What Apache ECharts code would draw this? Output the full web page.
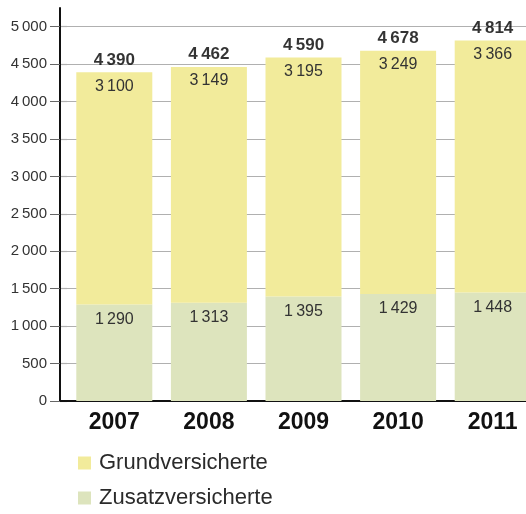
<!DOCTYPE html>
<html>
<head>
<meta charset="utf-8">
<script src="https://cdn.jsdelivr.net/npm/echarts@6/dist/echarts.min.js"></script>
<style>html,body{margin:0;padding:0;background:#fff}#c{width:526px;height:514px}</style>
</head>
<body>
<div id="c"></div>
<script>
const years = ['2007', '2008', '2009', '2010', '2011'];
const zusatz = [1290, 1313, 1395, 1429, 1448];
const grund = [3100, 3149, 3195, 3249, 3366];
const totals = [4390, 4462, 4590, 4678, 4814];
const seriesNames = ['Grundversicherte', 'Zusatzversicherte'];
const yTicks = { min: 0, max: 5000, interval: 500 };

const FONT = '"Liberation Sans", Arial, Helvetica, sans-serif';
const fmt = n => String(n).replace(/\B(?=(\d{3})+(?!\d))/g, '\u2009');
const YELLOW = '#f2eb9b';
const GREEN = '#dde4bd';

const legendBase = {
  orient: 'vertical',
  left: 78,
  padding: 0,
  icon: 'rect',
  itemWidth: 13,
  itemHeight: 13,
  textStyle: { fontFamily: FONT, fontSize: 22, color: '#2a2a2a', lineHeight: 22, padding: [0, 0, 0, 3] }
};

const chart = echarts.init(document.getElementById('c'), null, { renderer: 'canvas' });
chart.setOption({
  animation: false,
  textStyle: { fontFamily: FONT },
  grid: [
    { left: 67, width: 473, top: 26.7, bottom: 113, outerBoundsMode: 'none', containLabel: false },
    { left: 60, width: 7, top: 26.7, bottom: 113, outerBoundsMode: 'none' },
    { left: 60, width: 7, top: 8, height: 18.7, outerBoundsMode: 'none' }
  ],
  legend: [
    Object.assign({}, legendBase, { data: [seriesNames[0]], top: 452 }),
    Object.assign({}, legendBase, { data: [seriesNames[1]], top: 487 })
  ],
  xAxis: [
    {
      type: 'category', data: years, gridIndex: 0,
      axisLine: { lineStyle: { color: '#111', width: 2 } },
      axisTick: { show: false },
      axisLabel: { fontFamily: FONT, fontSize: 23, fontWeight: 'bold', color: '#111', margin: 10 }
    },
    {
      type: 'value', gridIndex: 1, min: 0, max: 1,
      axisLine: { show: true, lineStyle: { color: '#111', width: 2 } },
      axisTick: { show: false }, axisLabel: { show: false }, splitLine: { show: false }
    },
    { type: 'value', gridIndex: 2, show: false, min: 0, max: 1 }
  ],
  yAxis: [
    {
      type: 'value', gridIndex: 0, min: yTicks.min, max: yTicks.max, interval: yTicks.interval,
      offset: 7,
      axisLine: { show: true, lineStyle: { color: '#111', width: 2 } },
      axisTick: { show: true, length: 10, lineStyle: { color: '#666', width: 1 } },
      axisLabel: {
        fontFamily: FONT, fontSize: 15, color: '#333', margin: 13,
        verticalAlign: 'middle', padding: [0, 0, 7, 0],
        formatter: v => fmt(v)
      },
      splitLine: { lineStyle: { color: '#b0b0b0', width: 1.2 } }
    },
    {
      type: 'value', gridIndex: 1, min: yTicks.min, max: yTicks.max, interval: yTicks.interval,
      axisLine: { show: false }, axisTick: { show: false }, axisLabel: { show: false },
      splitLine: { lineStyle: { color: '#b0b0b0', width: 1.2 } }
    },
    {
      type: 'value', gridIndex: 2, min: 0, max: 1,
      axisLine: { show: true, lineStyle: { color: '#111', width: 2 } },
      axisTick: { show: false }, axisLabel: { show: false }, splitLine: { show: false }
    }
  ],
  series: [
    {
      name: seriesNames[1], type: 'bar', stack: 'total', data: zusatz, barWidth: 76,
      itemStyle: { color: GREEN },
      label: { show: true, position: 'insideTop', distance: 7, fontFamily: FONT, fontSize: 16, color: '#333', formatter: p => fmt(p.value) }
    },
    {
      name: seriesNames[0], type: 'bar', stack: 'total', data: grund, barWidth: 76,
      itemStyle: { color: YELLOW },
      label: { show: true, position: 'insideTop', distance: 6, fontFamily: FONT, fontSize: 16, color: '#333', formatter: p => fmt(p.value) }
    },
    {
      name: 'Total', type: 'scatter', data: totals, symbolSize: 0, silent: true,
      itemStyle: { color: '#000' },
      label: { show: true, position: 'top', distance: 4, fontFamily: FONT, fontSize: 17, fontWeight: 'bold', color: '#000', formatter: p => fmt(p.value) }
    }
  ]
});
</script>
</body>
</html>
